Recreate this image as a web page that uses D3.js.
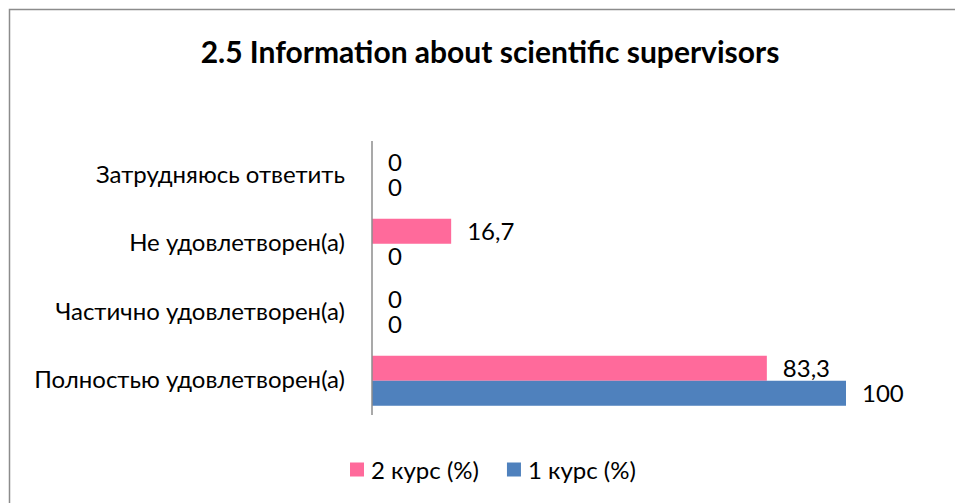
<!DOCTYPE html>
<html>
<head>
<meta charset="utf-8">
<script src="https://cdn.jsdelivr.net/npm/d3@7"></script>
<style>
  body { margin: 0; background: #fff; }
  svg text { font-family: Lato, "Open Sans", sans-serif; fill: #000; }
</style>
</head>
<body>
<svg id="chart"></svg>
<script>
// categories, top to bottom
var categories = ["Затрудняюсь ответить", "Не удовлетворен(а)", "Частично удовлетворен(а)", "Полностью удовлетворен(а)"];
var seriesNames = ["2 курс (%)", "1 курс (%)"];
var course2 = [0, 16.7, 0, 83.3];
var course1 = [0, 0, 0, 100];
var colors = ["#FF6A9B", "#4F81BD"];

var svgWidth = 955, svgHeight = 503;
var axisX = 372, axisTop = 141, axisBottom = 415;
var labelSize = 24;

var svg = d3.select("#chart")
  .attr("width", svgWidth)
  .attr("height", svgHeight);

// chart border
svg.append("rect")
  .attr("x", 9.5).attr("y", 9.5)
  .attr("width", 980).attr("height", 520)
  .attr("fill", "none")
  .attr("stroke", "#8c8c8c")
  .attr("stroke-width", 1.5);

svg.append("text")
  .attr("x", 490).attr("y", 63)
  .attr("text-anchor", "middle")
  .attr("font-size", 30)
  .attr("font-weight", "bold")
  .text("2.5 Information about scientific supervisors");

var xScale = d3.scaleLinear()
  .domain([0, 100])
  .range([axisX, 846]);

var yScale = d3.scaleBand()
  .domain(categories)
  .range([axisTop, axisBottom])
  .paddingInner(0.27)
  .paddingOuter(0.135);

var subScale = d3.scaleBand()
  .domain(seriesNames)
  .range([0, yScale.bandwidth()]);

var rows = categories.map(function (c, i) {
  return { cat: c, values: [course2[i], course1[i]] };
});

var groups = svg.selectAll("g.row")
  .data(rows)
  .enter()
  .append("g")
  .attr("class", "row")
  .attr("transform", function (d) {
    return "translate(0," + yScale(d.cat) + ")";
  });

var bars = groups.selectAll("g.bar")
  .data(function (d) {
    return d.values.map(function (v, j) { return { name: seriesNames[j], value: v, idx: j }; });
  })
  .enter()
  .append("g")
  .attr("class", "bar");

bars.append("rect")
  .attr("x", xScale(0))
  .attr("y", function (d) { return subScale(d.name); })
  .attr("width", function (d) { return xScale(d.value) - xScale(0); })
  .attr("height", subScale.bandwidth())
  .attr("fill", function (d) { return colors[d.idx]; });

bars.append("text")
  .attr("x", function (d) { return xScale(d.value) + 16; })
  .attr("y", function (d) { return subScale(d.name) + subScale.bandwidth() / 2; })
  .attr("dy", "0.36em")
  .attr("font-size", labelSize)
  .text(function (d) { return String(d.value).replace(".", ","); });

// category axis
var y_axis = d3.axisLeft(yScale).tickSize(0).tickPadding(27);
var yAxisG = svg.append("g")
  .attr("transform", "translate(" + axisX + ",0)")
  .call(y_axis);
yAxisG.select(".domain").remove();
yAxisG.selectAll("text").attr("font-size", labelSize).attr("font-family", null).attr("fill", "#000");

svg.append("line")
  .attr("x1", axisX).attr("x2", axisX)
  .attr("y1", axisTop).attr("y2", axisBottom)
  .attr("stroke", "#8c8c8c")
  .attr("stroke-width", 1.5);

// legend
var legend = svg.append("g").attr("transform", "translate(350,470)");
var lx = 0;
seriesNames.forEach(function (name, i) {
  var item = legend.append("g").attr("transform", "translate(" + lx + ",0)");
  item.append("rect")
    .attr("x", 0).attr("y", -7.5)
    .attr("width", 14).attr("height", 14)
    .attr("fill", colors[i]);
  var t = item.append("text")
    .attr("x", 21).attr("dy", "0.36em")
    .attr("font-size", labelSize)
    .text(name);
  lx += 21 + t.node().getComputedTextLength() + 28;
});
</script>
</body>
</html>
